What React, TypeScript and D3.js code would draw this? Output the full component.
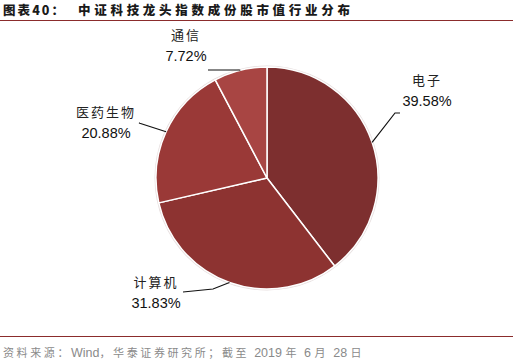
import React, { useEffect, useRef } from "react";
import * as d3 from "d3";

const categories = ["电子", "计算机", "医药生物", "通信"];
const shares = [39.58, 31.83, 20.88, 7.72];
const shareLabels = ["39.58%", "31.83%", "20.88%", "7.72%"];
const sliceColors = ["#7d2f2f", "#8d3331", "#9a3937", "#a84543"];
const footerParts = [
  { t: "资料来源：", cjk: true },
  { t: "Wind", cjk: false },
  { t: "，华泰证券研究所；截至 ", cjk: true },
  { t: "2019 ", cjk: false },
  { t: "年 ", cjk: true },
  { t: "6 ", cjk: false },
  { t: "月 ", cjk: true },
  { t: "28 ", cjk: false },
  { t: "日", cjk: true },
];

const W = 513;
const H = 363;

export default function App() {
  const svgRef = useRef<SVGSVGElement>(null);

  useEffect(() => {
    const svg = d3.select(svgRef.current);
    svg.selectAll("*").remove();

    // --- header / footer ---
    svg.append("text")
      .attr("x", 3).attr("y", 15)
      .attr("font-family", "Noto Sans CJK SC")
      .attr("font-weight", 900)
      .attr("font-size", 12.5)
      .attr("fill", "#1a1a1a")
      .attr("textLength", 61)
      .text("图表40：");
    svg.append("text")
      .attr("x", 78).attr("y", 15)
      .attr("font-family", "Noto Sans CJK SC")
      .attr("font-weight", 900)
      .attr("font-size", 12.5)
      .attr("fill", "#1a1a1a")
      .attr("textLength", 272)
      .text("中证科技龙头指数成份股市值行业分布");
    svg.append("line")
      .attr("x1", 0).attr("x2", W).attr("y1", 20.5).attr("y2", 20.5)
      .attr("stroke", "#8b2c2c").attr("stroke-width", 1.2);
    svg.append("line")
      .attr("x1", 0).attr("x2", W).attr("y1", 336.5).attr("y2", 336.5)
      .attr("stroke", "#8b2c2c").attr("stroke-width", 1.2);
    const foot = svg.append("text")
      .attr("x", 3).attr("y", 357)
      .attr("font-size", 11.5)
      .attr("fill", "#8a8a8a");
    foot.selectAll("tspan")
      .data(footerParts)
      .join("tspan")
      .attr("font-family", d => d.cjk ? "Noto Sans CJK SC" : "Liberation Sans, Arial")
      .attr("font-size", d => d.cjk ? 11 : 12.5)
      .attr("letter-spacing", d => d.cjk ? 2.6 : 0)
      .text(d => d.t);

    // --- pie ---
    const cx = 267, cy = 178, r = 111;
    const g = svg.append("g").attr("transform", `translate(${cx},${cy})`);

    const pie = d3.pie<number>().sort(null).value(d => d);
    const arcs = pie(shares);
    const arc = d3.arc<d3.PieArcDatum<number>>().innerRadius(0).outerRadius(r);

    g.append("circle").attr("r", r + 1.5).attr("fill", "#e6dede");
    g.selectAll("path.slice")
      .data(arcs)
      .join("path")
      .attr("class", "slice")
      .attr("d", arc)
      .attr("fill", (_, i) => sliceColors[i])
      .attr("stroke", "#fff")
      .attr("stroke-width", 1.5)
      .attr("stroke-linejoin", "round");

    // --- labels with leader lines ---
    const leaders = [
      { elbow: [128, -65], end: [133, -65], tx: 160, ty: -93 },
      { elbow: [-54, 111], end: [-84, 114], tx: -111, ty: 109 },
      { elbow: [-128, -55], end: [-127, -55], tx: -161, ty: -61 },
      { elbow: [-28, -108], end: [-59, -108], tx: -81, ty: -138 },
    ];

    arcs.forEach((a, i) => {
      const mid = (a.startAngle + a.endAngle) / 2;
      const px = r * Math.sin(mid), py = -r * Math.cos(mid);
      const L = leaders[i];
      g.append("path")
        .attr("d", d3.line()([[px, py], L.elbow as [number, number], L.end as [number, number]]))
        .attr("fill", "none")
        .attr("stroke", "#111")
        .attr("stroke-width", 1.2);
      g.append("text")
        .attr("x", L.tx).attr("y", L.ty)
        .attr("text-anchor", "middle")
        .attr("font-family", "Noto Sans CJK SC")
        .attr("font-size", 13)
        .attr("letter-spacing", 2)
        .attr("fill", "#222")
        .text(categories[i]);
      g.append("text")
        .attr("x", L.tx).attr("y", L.ty + 21)
        .attr("text-anchor", "middle")
        .attr("font-family", "Liberation Sans, Arial")
        .attr("font-size", 14.5)
        .attr("fill", "#111")
        .text(shareLabels[i]);
    });
  }, []);

  return (
    <div style={{ position: "absolute", left: 0, top: 0 }}>
      <svg ref={svgRef} width={W} height={H} style={{ display: "block", background: "#fff" }} />
    </div>
  );
}
